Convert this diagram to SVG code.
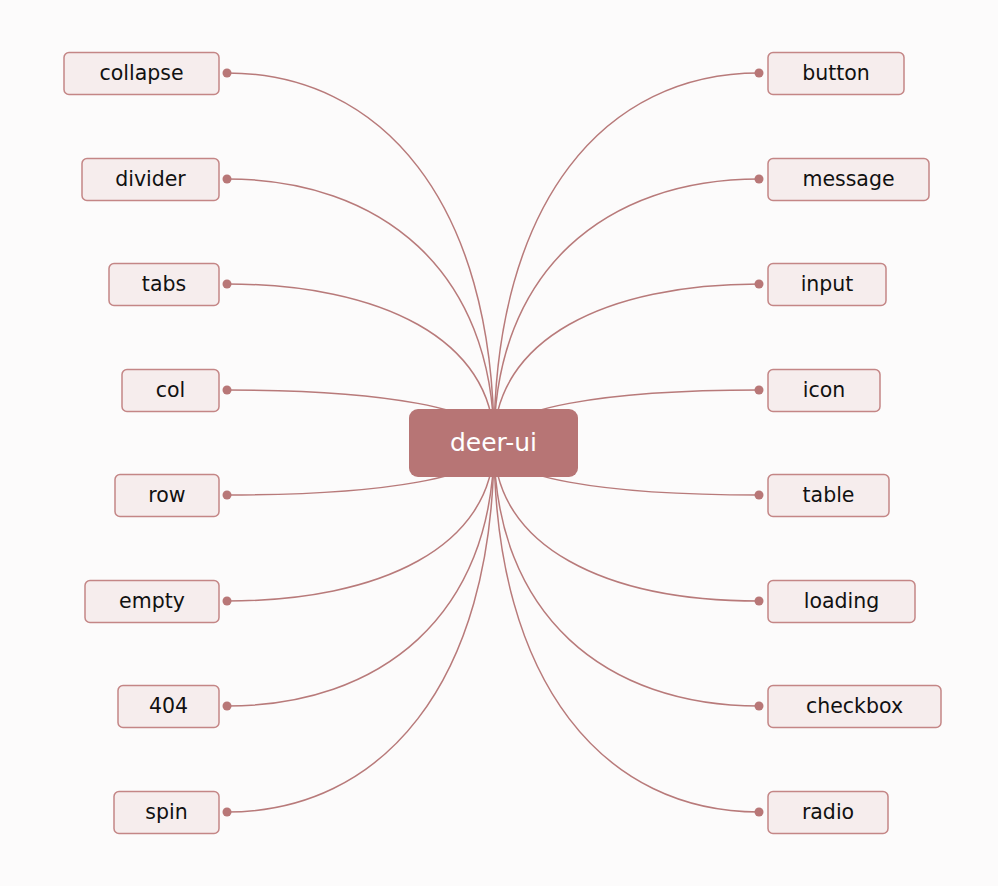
<svg xmlns="http://www.w3.org/2000/svg" width="998" height="886" viewBox="0 0 998 886">
<style>
.bg{fill:#fcfbfb}
.n rect{fill:#f6eded;stroke:#c48686;stroke-width:1.5}
.n text{font-family:"DejaVu Sans","Liberation Sans",sans-serif;font-size:20.5px;fill:#111;text-anchor:middle;dominant-baseline:central}
.e path{fill:none;stroke:#b87a7a;stroke-width:1.5}
.e circle{fill:#b87777}
#root rect{fill:#b77575}
#root text{font-family:"DejaVu Sans","Liberation Sans",sans-serif;font-size:25px;fill:#fff;text-anchor:middle;dominant-baseline:central}
</style>
<rect class="bg" width="998" height="886"/>
<g class="e" id="connectors">
<path d="M227,73 C380,73 494,200 494,443"/>
<path d="M227,179 C380,179 494,270 494,443"/>
<path d="M227,284 C380,284 494,339 494,443"/>
<path d="M227,390 C380,390 494,408 494,443"/>
<path d="M227,495 C380,495 494,478 494,443"/>
<path d="M227,601 C380,601 494,547 494,443"/>
<path d="M227,706 C380,706 494,616 494,443"/>
<path d="M227,812 C380,812 494,686 494,443"/>
<path d="M759,73 C606,73 494,200 494,443"/>
<path d="M759,179 C606,179 494,270 494,443"/>
<path d="M759,284 C606,284 494,339 494,443"/>
<path d="M759,390 C606,390 494,408 494,443"/>
<path d="M759,495 C606,495 494,478 494,443"/>
<path d="M759,601 C606,601 494,547 494,443"/>
<path d="M759,706 C606,706 494,616 494,443"/>
<path d="M759,812 C606,812 494,686 494,443"/>
<circle cx="227" cy="73" r="4.5"/><circle cx="227" cy="179" r="4.5"/><circle cx="227" cy="284" r="4.5"/><circle cx="227" cy="390" r="4.5"/>
<circle cx="227" cy="495" r="4.5"/><circle cx="227" cy="601" r="4.5"/><circle cx="227" cy="706" r="4.5"/><circle cx="227" cy="812" r="4.5"/>
<circle cx="759" cy="73" r="4.5"/><circle cx="759" cy="179" r="4.5"/><circle cx="759" cy="284" r="4.5"/><circle cx="759" cy="390" r="4.5"/>
<circle cx="759" cy="495" r="4.5"/><circle cx="759" cy="601" r="4.5"/><circle cx="759" cy="706" r="4.5"/><circle cx="759" cy="812" r="4.5"/>
</g>
<g id="root"><rect x="409" y="409" width="169" height="68" rx="9"/><text x="493.5" y="442">deer-ui</text></g>
<g class="n" id="collapse"><rect x="64" y="52.5" width="155" height="42" rx="5"/><text x="141.5" y="73">collapse</text></g>
<g class="n" id="divider"><rect x="82" y="158.5" width="137" height="42" rx="5"/><text x="150.5" y="179">divider</text></g>
<g class="n" id="tabs"><rect x="109" y="263.5" width="110" height="42" rx="5"/><text x="164" y="284">tabs</text></g>
<g class="n" id="col"><rect x="122" y="369.5" width="97" height="42" rx="5"/><text x="170.5" y="390">col</text></g>
<g class="n" id="row"><rect x="115" y="474.5" width="104" height="42" rx="5"/><text x="167" y="495">row</text></g>
<g class="n" id="empty"><rect x="85" y="580.5" width="134" height="42" rx="5"/><text x="152" y="601">empty</text></g>
<g class="n" id="n404"><rect x="118" y="685.5" width="101" height="42" rx="5"/><text x="168.5" y="706">404</text></g>
<g class="n" id="spin"><rect x="114" y="791.5" width="105" height="42" rx="5"/><text x="166.5" y="812">spin</text></g>
<g class="n" id="button"><rect x="768" y="52.5" width="136" height="42" rx="5"/><text x="836" y="73">button</text></g>
<g class="n" id="message"><rect x="768" y="158.5" width="161" height="42" rx="5"/><text x="848.5" y="179">message</text></g>
<g class="n" id="input"><rect x="768" y="263.5" width="118" height="42" rx="5"/><text x="827" y="284">input</text></g>
<g class="n" id="icon"><rect x="768" y="369.5" width="112" height="42" rx="5"/><text x="824" y="390">icon</text></g>
<g class="n" id="table"><rect x="768" y="474.5" width="121" height="42" rx="5"/><text x="828.5" y="495">table</text></g>
<g class="n" id="loading"><rect x="768" y="580.5" width="147" height="42" rx="5"/><text x="841.5" y="601">loading</text></g>
<g class="n" id="checkbox"><rect x="768" y="685.5" width="173" height="42" rx="5"/><text x="854.5" y="706">checkbox</text></g>
<g class="n" id="radio"><rect x="768" y="791.5" width="120" height="42" rx="5"/><text x="828" y="812">radio</text></g>
</svg>
